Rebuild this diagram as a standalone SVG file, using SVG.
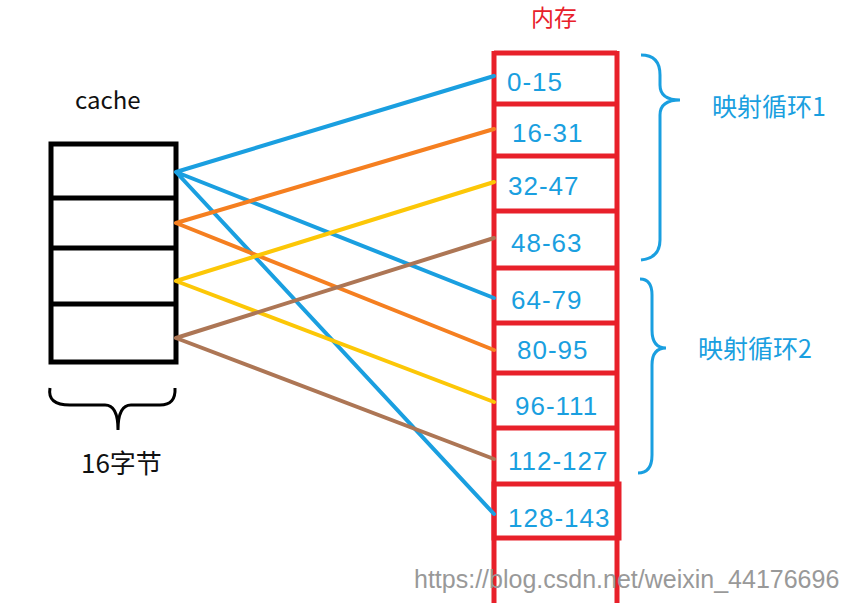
<svg xmlns="http://www.w3.org/2000/svg" width="856" height="603" viewBox="0 0 856 603">
<style>
.t{font-family:"Microsoft YaHei","Noto Sans CJK SC","Liberation Sans",sans-serif}
.m{font-family:"Liberation Sans",sans-serif;font-size:26px;fill:#1a9fe0;letter-spacing:1px}
.c{fill:none;stroke-width:4;stroke-linecap:round}
</style>
<rect width="856" height="603" fill="#fff"/>
<text class="t" x="531" y="26" font-size="23" fill="#e8202a">内存</text>
<text class="t" x="75" y="109" font-size="24" fill="#111">cache</text>
<g id="cache" fill="none" stroke="#000" stroke-width="5">
<rect x="51" y="144" width="125" height="218"/>
<line x1="51" y1="198" x2="176" y2="198"/>
<line x1="51" y1="248" x2="176" y2="248"/>
<line x1="51" y1="304" x2="176" y2="304"/>
</g>
<g id="brace16"><path d="M50 388 Q47 405 70 405 L105 405 Q118 405 118 430 Q118 405 131 405 L160 405 Q176 405 175 388" fill="none" stroke="#000" stroke-width="3"/></g>
<text class="t" x="81" y="473" font-size="26" fill="#111">16字节</text>
<g id="memory" fill="none" stroke="#e8202a" stroke-width="5">
<line x1="494" y1="51" x2="494" y2="603"/>
<line x1="617" y1="51" x2="617" y2="603"/>
<line x1="494" y1="53" x2="617" y2="53"/>
<line x1="494" y1="104" x2="617" y2="104"/>
<line x1="494" y1="156" x2="617" y2="156"/>
<line x1="494" y1="211" x2="617" y2="211"/>
<line x1="494" y1="268" x2="617" y2="268"/>
<line x1="494" y1="323" x2="617" y2="323"/>
<line x1="494" y1="373" x2="617" y2="373"/>
<line x1="494" y1="428" x2="617" y2="428"/>
<rect x="494" y="484" width="125" height="54"/>
</g>
<g id="labels">
<text class="m" x="507" y="91">0-15</text>
<text class="m" x="512" y="142">16-31</text>
<text class="m" x="508" y="195">32-47</text>
<text class="m" x="511" y="252">48-63</text>
<text class="m" x="511" y="309">64-79</text>
<text class="m" x="517" y="359">80-95</text>
<text class="m" x="515" y="415">96-111</text>
<text class="m" x="508" y="470">112-127</text>
<text class="m" x="508" y="527">128-143</text>
</g>
<g id="connectors">
<path class="c" stroke="#1a9fe0" d="M176 172 L494 76 M176 172 L494 298 M176 172 L494 514"/>
<path class="c" stroke="#f57f20" d="M176 223 L494 129 M176 223 L494 350"/>
<path class="c" stroke="#fcc707" d="M176 281 L494 182 M176 281 L494 402"/>
<path class="c" stroke="#ad7655" d="M176 338 L494 238 M176 338 L494 459"/>
</g>
<g id="braces" fill="none" stroke="#1a9fe0" stroke-width="3">
<path d="M641 55 Q660 55 660 75 L660 85 Q660 100 680 100 Q660 100 660 115 L660 240 Q660 258 641 260"/>
<path d="M640 279 Q652 279 652 295 L652 330 Q652 348 666 348 Q652 348 652 365 L652 455 Q652 473 638 473"/>
</g>
<text class="t" x="712" y="116" font-size="25" fill="#1a9fe0">映射循环1</text>
<text class="t" x="698" y="358" font-size="25" fill="#1a9fe0">映射循环2</text>
<text x="414" y="588" font-family="Liberation Sans,sans-serif" font-size="25" fill="#999">https://blog.csdn.net/weixin_44176696</text>
</svg>
